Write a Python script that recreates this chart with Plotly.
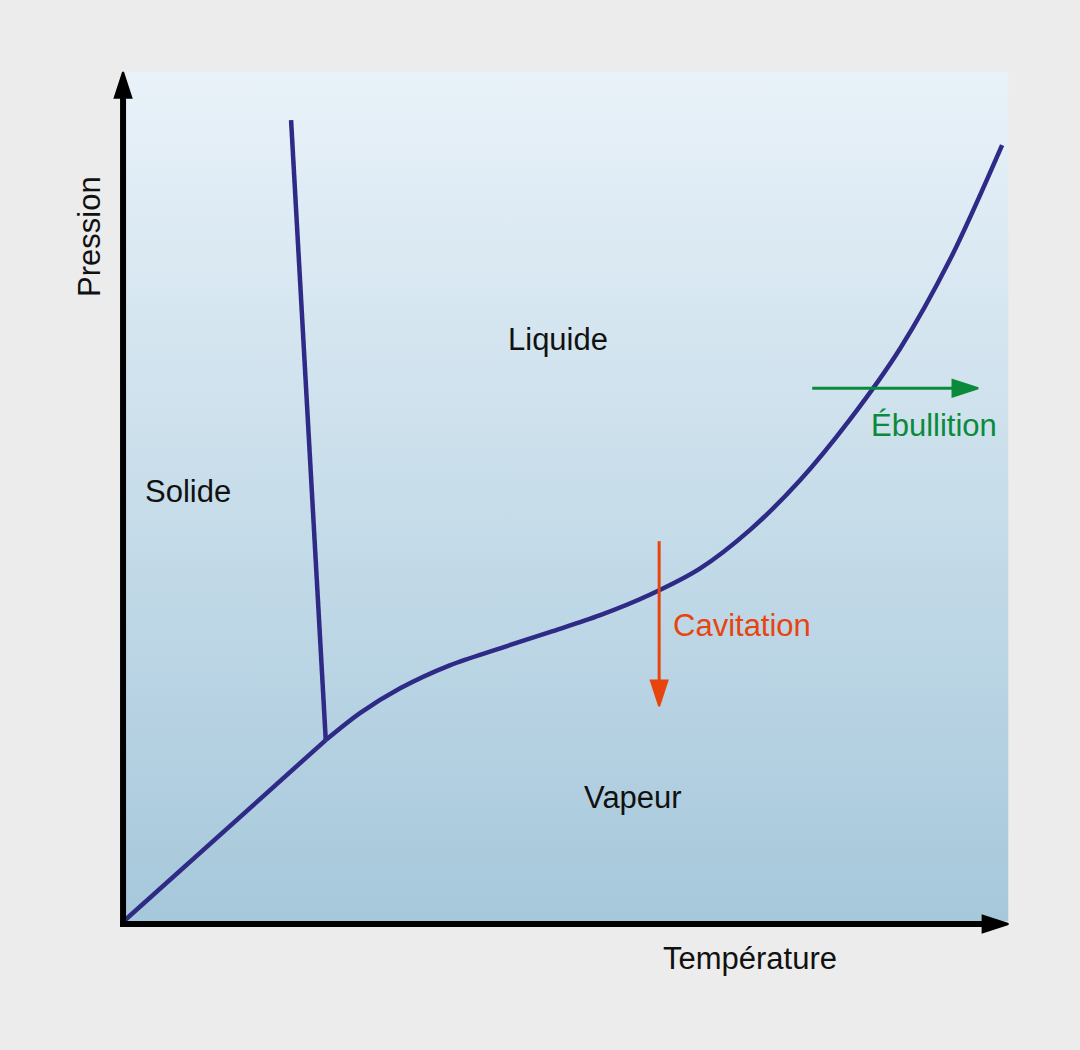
import plotly.graph_objects as go

# ---- data (units: temperature / pressure, 0..100 over the drawing box) ----
fusion_T = [18.98, 22.9]
fusion_P = [94.35, 21.4]

subl_T = [0.2, 22.9]
subl_P = [0.2, 21.4]

vap_T = [22.9, 26.8, 31.3, 36.9, 42.6, 48.2, 53.9, 59.5, 65.2, 70.8, 76.5, 82.1, 87.8, 93.4, 99.3]
vap_P = [21.4, 24.6, 27.5, 30.2, 32.2, 34.1, 36.1, 38.5, 41.6, 46.1, 52.0, 59.1, 67.5, 77.9, 91.4]

cav_T = [60.56, 60.56]
cav_P = [44.8, 25.4]

ebu_T = [77.85, 96.6]
ebu_P = [62.8, 62.8]

xaxis_T = [-0.34, 100.0]
xaxis_P = [-0.24, -0.24]
yaxis_T = [0.0, 0.0]
yaxis_P = [-0.5, 100.0]

box_T = [0, 100, 100, 0, 0]
box_P = [0.1, 0.1, 100, 100, 0.1]

region_labels = ["Liquide", "Solide", "Vapeur"]
region_T = [49.15, 7.34, 57.6]
region_P = [68.5, 50.6, 14.6]

CURVE = "#2e2a86"
ORANGE = "#e8440f"
GREEN = "#0b8a3b"
FONT = "Liberation Sans"

fig = go.Figure()

# gradient background box
fig.add_trace(go.Scatter(
    x=box_T, y=box_P, mode="lines", fill="toself",
    line=dict(width=0, color="rgba(0,0,0,0)"),
    fillgradient=dict(type="vertical",
                      colorscale=[[0, "#a6c8db"], [1, "#e9f2f9"]]),
    hoverinfo="skip", showlegend=False))

for xs, ys in [(fusion_T, fusion_P), (subl_T, subl_P)]:
    fig.add_trace(go.Scatter(x=xs, y=ys, mode="lines",
                             line=dict(color=CURVE, width=4.5),
                             showlegend=False))
fig.add_trace(go.Scatter(x=vap_T, y=vap_P, mode="lines",
                         line=dict(color=CURVE, width=4.5, shape="spline", smoothing=0.9),
                         showlegend=False))


def arrow(xs, ys, color, width):
    fig.add_trace(go.Scatter(
        x=xs, y=ys, mode="lines+markers",
        line=dict(color=color, width=width),
        marker=dict(symbol=["circle", "arrow"], size=[0, 27], angleref="previous",
                    opacity=1, color=color, line=dict(color=color, width=2)),
        cliponaxis=False, showlegend=False))


arrow(cav_T, cav_P, ORANGE, 3)
arrow(ebu_T, ebu_P, GREEN, 3)
arrow(xaxis_T, xaxis_P, "#000000", 6)
arrow(yaxis_T, yaxis_P, "#000000", 6)

for t, x, y in zip(region_labels, region_T, region_P):
    fig.add_annotation(x=x, y=y, text=t, showarrow=False,
                       font=dict(family=FONT, size=31, color="#111111"),
                       xanchor="center", yanchor="middle")

fig.add_annotation(x=61.9, y=34.9, text="Cavitation", showarrow=False,
                   font=dict(family=FONT, size=31, color=ORANGE),
                   xanchor="left", yanchor="middle")
fig.add_annotation(x=84.3, y=58.4, text="Ébullition", showarrow=False,
                   font=dict(family=FONT, size=31, color=GREEN),
                   xanchor="left", yanchor="middle")
fig.add_annotation(x=70.85, y=-4.35, text="Température", showarrow=False,
                   font=dict(family=FONT, size=31, color="#111111"),
                   xanchor="center", yanchor="middle")
fig.add_annotation(x=-3.73, y=80.6, text="Pression", showarrow=False, textangle=-90,
                   font=dict(family=FONT, size=31, color="#111111"),
                   xanchor="center", yanchor="middle")

fig.update_layout(
    width=1080, height=1050,
    margin=dict(l=0, r=0, t=0, b=0),
    paper_bgcolor="#ececec", plot_bgcolor="#ececec",
    xaxis=dict(range=[-13.9, 108.1], visible=False, fixedrange=True),
    yaxis=dict(range=[-15.06, 108.47], visible=False, fixedrange=True),
    showlegend=False,
)

fig.write_html("out.html")
